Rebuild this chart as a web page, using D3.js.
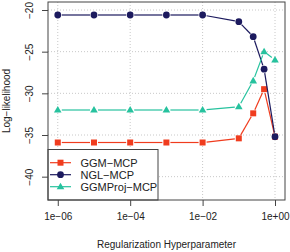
<!DOCTYPE html>
<html>
<head>
<meta charset="utf-8">
<script src="https://cdn.jsdelivr.net/npm/d3@7"></script>
<style>
body { margin: 0; background: #fff; }
text { font-family: "Liberation Sans", Arial, sans-serif; fill: #222; }
</style>
</head>
<body>
<script>
// data
var lambdas = [1e-6, 1e-5, 1e-4, 1e-3, 1e-2, 1e-1, 0.25, 0.5, 1];
var ggmMcp = [-35.9, -35.9, -35.9, -35.9, -35.9, -35.4, -32.4, -29.5, -35.2];
var nglMcp = [-20.6, -20.6, -20.6, -20.6, -20.6, -21.4, -23.2, -27.1, -35.2];
var ggmProjMcp = [-32.0, -32.0, -32.0, -32.0, -32.0, -31.6, -28.5, -25.0, -26.0];
var xTicks = [1e-6, 1e-4, 1e-2, 1];
var xTickLabels = ["1e\u221206", "1e\u221204", "1e\u221202", "1e+00"];
var yTicks = [-20, -25, -30, -35, -40];

var series = [
    {name: "GGM\u2212MCP", values: ggmMcp, color: "#f03c1e", shape: "square"},
    {name: "NGL\u2212MCP", values: nglMcp, color: "#1c1a5e", shape: "circle"},
    {name: "GGMProj\u2212MCP", values: ggmProjMcp, color: "#26c29e", shape: "triangle"}
];

var width = 290, height = 252;
var plotLeft = 48, plotRight = 285, plotTop = 2, plotBottom = 200;

var svg = d3.select("body").append("svg")
    .attr("width", width)
    .attr("height", height);

var x = d3.scaleLog().domain([Math.pow(10, -6.27), Math.pow(10, 0.276)]).range([plotLeft, plotRight]);
var y = d3.scaleLinear().domain([-42.8, -19.04]).range([plotBottom, plotTop]);

// grid
var grid = svg.append("g");
grid.selectAll(".gx").data(xTicks).enter().append("line")
    .attr("x1", function(d) { return x(d); }).attr("x2", function(d) { return x(d); })
    .attr("y1", plotTop).attr("y2", plotBottom)
    .attr("stroke", "#c8c8c8").attr("stroke-dasharray", "1,2");
grid.selectAll(".gy").data(yTicks).enter().append("line")
    .attr("x1", plotLeft).attr("x2", plotRight)
    .attr("y1", function(d) { return y(d); }).attr("y2", function(d) { return y(d); })
    .attr("stroke", "#c8c8c8").attr("stroke-dasharray", "1,2");

// axes
var xAxis = svg.append("g")
    .attr("transform", "translate(0," + plotBottom + ")")
    .call(d3.axisBottom(x).tickValues(xTicks).tickSize(6).tickPadding(7)
        .tickFormat(function(d, i) { return xTickLabels[i]; }));
var yAxis = svg.append("g")
    .attr("transform", "translate(" + plotLeft + ",0)")
    .call(d3.axisLeft(y).tickValues(yTicks).tickSize(6).tickPadding(4)
        .tickFormat(function(d) { return String(d).replace("-", "\u2212"); }));
[xAxis, yAxis].forEach(function(a) {
    a.select(".domain").remove();
    a.selectAll(".tick line").attr("stroke", "#444");
    a.selectAll(".tick text").style("font-size", "10px").attr("fill", "#222")
        .style("font-family", "'Liberation Sans', Arial, sans-serif");
});
yAxis.selectAll(".tick text")
    .attr("text-anchor", "middle")
    .attr("dy", 0)
    .attr("x", 0)
    .attr("transform", "translate(-19,0) rotate(-90)")
    .attr("dominant-baseline", "central");

// lines with gaps around points
var gap = 4;
function drawSeries(g, s) {
    var pts = lambdas.map(function(l, i) { return [x(l), y(s.values[i])]; });
    for (var i = 0; i < pts.length - 1; i++) {
        var a = pts[i], b = pts[i + 1];
        var dx = b[0] - a[0], dy = b[1] - a[1];
        var len = Math.sqrt(dx * dx + dy * dy);
        if (len <= 2 * gap) continue;
        var ux = dx / len, uy = dy / len;
        g.append("line")
            .attr("x1", a[0] + ux * gap).attr("y1", a[1] + uy * gap)
            .attr("x2", b[0] - ux * gap).attr("y2", b[1] - uy * gap)
            .attr("stroke", s.color).attr("stroke-width", 1.2);
    }
    pts.forEach(function(p) { drawSymbol(g, s, p[0], p[1]); });
}

function drawSymbol(g, s, cx, cy) {
    if (s.shape === "square") {
        g.append("rect").attr("x", cx - 3).attr("y", cy - 3)
            .attr("width", 6).attr("height", 6).attr("fill", s.color);
    } else if (s.shape === "circle") {
        g.append("circle").attr("cx", cx).attr("cy", cy).attr("r", 3.4).attr("fill", s.color);
    } else {
        g.append("path")
            .attr("d", "M" + cx + "," + (cy - 4) + "L" + (cx + 3.8) + "," + (cy + 2.6) + "L" + (cx - 3.8) + "," + (cy + 2.6) + "Z")
            .attr("fill", s.color);
    }
}

var marks = svg.append("g");
series.forEach(function(s) { drawSeries(marks, s); });

// legend
var legend = svg.append("g");
legend.append("rect")
    .attr("x", plotLeft).attr("y", 149.5)
    .attr("width", 158 - plotLeft).attr("height", plotBottom - 149.5)
    .attr("fill", "#fff").attr("stroke", "#444");
series.forEach(function(s, i) {
    var ly = 162.7 + i * 12;
    legend.append("line").attr("x1", 50).attr("x2", 71)
        .attr("y1", ly).attr("y2", ly)
        .attr("stroke", s.color).attr("stroke-width", 1.2);
    drawSymbol(legend, s, 60.5, ly);
    legend.append("text").attr("x", 80.5).attr("y", ly + 4)
        .style("font-size", "11px").text(s.name);
});

// frame
svg.append("rect")
    .attr("x", plotLeft).attr("y", plotTop)
    .attr("width", plotRight - plotLeft).attr("height", plotBottom - plotTop)
    .attr("fill", "none").attr("stroke", "#444");

// titles
svg.append("text").attr("x", (plotLeft + plotRight) / 2).attr("y", 248)
    .attr("text-anchor", "middle").style("font-size", "10px")
    .text("Regularization Hyperparameter");
svg.append("text")
    .attr("transform", "translate(10," + ((plotTop + plotBottom) / 2) + ") rotate(-90)")
    .attr("text-anchor", "middle").style("font-size", "10px")
    .text("Log\u2212likelihood");
</script>
</body>
</html>
